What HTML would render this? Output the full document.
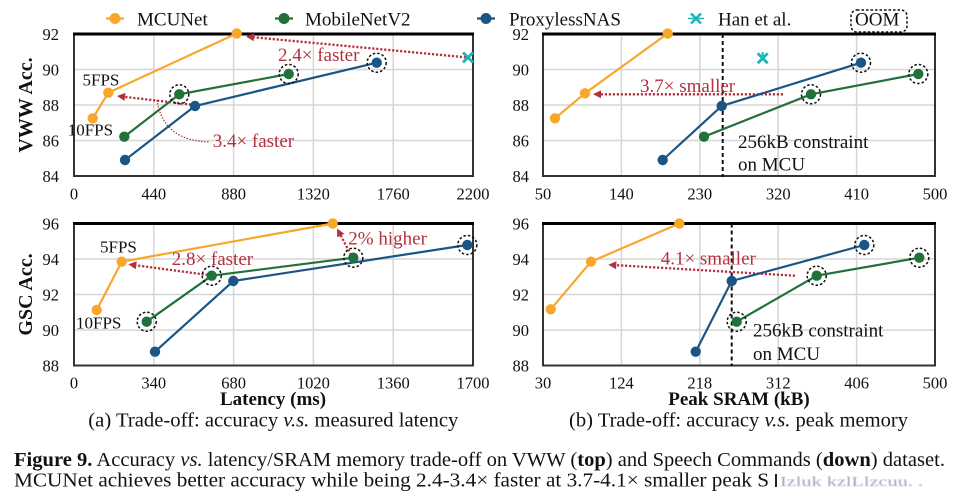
<!DOCTYPE html>
<html>
<head>
<meta charset="utf-8">
<style>
  html, body { margin:0; padding:0; background:#fff; }
  body { width:953px; height:499px; overflow:hidden; }
  svg { display:block; }
  text { font-family: "Liberation Serif", "DejaVu Serif", serif; }
</style>
</head>
<body>
<svg width="953" height="499" viewBox="0 0 953 499" xmlns="http://www.w3.org/2000/svg">
  <defs>
    <filter id="blur"><feGaussianBlur stdDeviation="0.5"/></filter>
  </defs>
  <rect width="953" height="499" fill="#fff"/>

  <!-- ===== LEGEND ===== -->
  <g font-size="19" fill="#111">
    <line x1="106" y1="18.5" x2="124" y2="18.5" stroke="#f9a72b" stroke-width="2.2"/>
    <circle cx="115" cy="18.5" r="5.5" fill="#f9a72b"/>
    <text x="137" y="25.5">MCUNet</text>
    <line x1="275" y1="18.5" x2="293" y2="18.5" stroke="#22703a" stroke-width="2.2"/>
    <circle cx="284" cy="18.5" r="5.5" fill="#22703a"/>
    <text x="305" y="25.5">MobileNetV2</text>
    <line x1="477" y1="18.5" x2="495" y2="18.5" stroke="#1b5585" stroke-width="2.2"/>
    <circle cx="486" cy="18.5" r="5.5" fill="#1b5585"/>
    <text x="509" y="25.5">ProxylessNAS</text>
    <g stroke="#1fb5b8" stroke-width="2.5">
      <line x1="691" y1="13.5" x2="701" y2="23.5"/><line x1="691" y1="23.5" x2="701" y2="13.5"/>
      <line x1="688" y1="18.5" x2="704" y2="18.5" stroke-width="1.5"/>
    </g>
    <text x="718" y="25.5">Han et al.</text>
    <rect x="851" y="10" width="56" height="22" rx="6" fill="none" stroke="#111" stroke-width="1.5" stroke-dasharray="2.5 2"/>
    <text x="855" y="25.5">OOM</text>
  </g>

  <!-- ===== TOP-LEFT PLOT ===== -->
  <g>
    <g stroke="#d6d6d6" stroke-width="1.5">
      <line x1="153.8" y1="34" x2="153.8" y2="176"/>
      <line x1="233.6" y1="34" x2="233.6" y2="176"/>
      <line x1="313.4" y1="34" x2="313.4" y2="176"/>
      <line x1="393.2" y1="34" x2="393.2" y2="176"/>
      <line x1="74" y1="69.5" x2="473" y2="69.5"/>
      <line x1="74" y1="105" x2="473" y2="105"/>
      <line x1="74" y1="140.5" x2="473" y2="140.5"/>
    </g>
    <rect x="74" y="34" width="399" height="142" fill="none" stroke="#333" stroke-width="2"/>
    <line x1="73" y1="34" x2="474" y2="34" stroke="#000" stroke-width="3"/>
    <g font-size="16.5" fill="#111" text-anchor="end">
      <text x="59" y="39.8">92</text>
      <text x="59" y="75.3">90</text>
      <text x="59" y="110.8">88</text>
      <text x="59" y="146.3">86</text>
      <text x="59" y="181.8">84</text>
    </g>
    <g font-size="16.5" fill="#111" text-anchor="middle">
      <text x="74" y="199.5">0</text>
      <text x="153.8" y="199.5">440</text>
      <text x="233.6" y="199.5">880</text>
      <text x="313.4" y="199.5">1320</text>
      <text x="393.2" y="199.5">1760</text>
      <text x="473" y="199.5">2200</text>
    </g>
    <text transform="translate(32,105) rotate(-90)" text-anchor="middle" font-size="20" font-weight="bold" fill="#111">VWW Acc.</text>

    <!-- annotations -->
    <g stroke="#b3303d" stroke-width="2.3" stroke-dasharray="2.2 1.8" fill="none">
      <line x1="466" y1="57.3" x2="253" y2="37.2"/>
      <line x1="195" y1="105" x2="124" y2="96.8"/>
    </g>
    <path d="M157,100 Q163,141 210,142" fill="none" stroke="#b3303d" stroke-width="1.2" stroke-dasharray="1.5 1.5"/>
    <polygon points="246,36.5 254.3,33.3 253.6,41.2" fill="#b3303d"/>
    <polygon points="117,96 125.4,92.9 124.5,100.9" fill="#b3303d"/>

    <!-- series -->
    <polyline points="92.7,118.3 108.3,92.7 236.7,33.5" fill="none" stroke="#f9a72b" stroke-width="2.2"/>
    <polyline points="124.3,136.7 179.3,94.3 288.7,74" fill="none" stroke="#22703a" stroke-width="2.2"/>
    <polyline points="125,160 195,106 376.7,62.7" fill="none" stroke="#1b5585" stroke-width="2.2"/>
    <g fill="#f9a72b"><circle cx="92.7" cy="118.3" r="5.2"/><circle cx="108.3" cy="92.7" r="5.2"/><circle cx="236.7" cy="33.5" r="5.2"/></g>
    <g fill="#22703a"><circle cx="124.3" cy="136.7" r="5.2"/><circle cx="179.3" cy="94.3" r="5.2"/><circle cx="288.7" cy="74" r="5.2"/></g>
    <g fill="#1b5585"><circle cx="125" cy="160" r="5.2"/><circle cx="195" cy="106" r="5.2"/><circle cx="376.7" cy="62.7" r="5.2"/></g>
    <g fill="none" stroke="#111" stroke-width="1.5" stroke-dasharray="2.5 2">
      <circle cx="179.3" cy="94.3" r="9.5"/><circle cx="288.7" cy="74" r="9.5"/><circle cx="376.7" cy="62.7" r="9.5"/>
    </g>
    <g stroke="#1fb5b8" stroke-width="2.8">
      <line x1="463" y1="52.5" x2="473" y2="62.5"/><line x1="463" y1="62.5" x2="473" y2="52.5"/>
    </g>
    <g font-size="19" fill="#b3303d">
      <text x="278" y="61">2.4× faster</text>
      <text x="212.7" y="147">3.4× faster</text>
    </g>
    <g font-size="17" fill="#111">
      <text x="82.5" y="85.5">5FPS</text>
      <text x="67.7" y="135.5">10FPS</text>
    </g>
  </g>

  <!-- ===== TOP-RIGHT PLOT ===== -->
  <g>
    <g stroke="#d6d6d6" stroke-width="1.5">
      <line x1="621.4" y1="34" x2="621.4" y2="176"/>
      <line x1="699.8" y1="34" x2="699.8" y2="176"/>
      <line x1="778.2" y1="34" x2="778.2" y2="176"/>
      <line x1="856.6" y1="34" x2="856.6" y2="176"/>
      <line x1="543" y1="69.5" x2="935" y2="69.5"/>
      <line x1="543" y1="105" x2="935" y2="105"/>
      <line x1="543" y1="140.5" x2="935" y2="140.5"/>
    </g>
    <rect x="543" y="34" width="392" height="142" fill="none" stroke="#333" stroke-width="2"/>
    <line x1="542" y1="34" x2="936" y2="34" stroke="#000" stroke-width="3"/>
    <g font-size="16.5" fill="#111" text-anchor="end">
      <text x="529" y="39.8">92</text>
      <text x="529" y="75.3">90</text>
      <text x="529" y="110.8">88</text>
      <text x="529" y="146.3">86</text>
      <text x="529" y="181.8">84</text>
    </g>
    <g font-size="16.5" fill="#111" text-anchor="middle">
      <text x="543" y="199.5">50</text>
      <text x="621.4" y="199.5">140</text>
      <text x="699.8" y="199.5">230</text>
      <text x="778.2" y="199.5">320</text>
      <text x="856.6" y="199.5">410</text>
      <text x="935" y="199.5">500</text>
    </g>
    <line x1="722.7" y1="34" x2="722.7" y2="177" stroke="#111" stroke-width="2" stroke-dasharray="4 3"/>

    <g font-size="19" fill="#b3303d"><text x="640" y="92">3.7× smaller</text></g>
    <line x1="783" y1="94.3" x2="600" y2="94.3" stroke="#b3303d" stroke-width="2.3" stroke-dasharray="2.2 1.8"/>
    <polygon points="593,94.3 601,90.3 601,98.3" fill="#b3303d"/>

    <polyline points="555,118.3 585,93.3 667.7,33.5" fill="none" stroke="#f9a72b" stroke-width="2.2"/>
    <polyline points="662.7,160 721.7,106 861,62.7" fill="none" stroke="#1b5585" stroke-width="2.2"/>
    <polyline points="704,136.7 811,94.3 918.3,74" fill="none" stroke="#22703a" stroke-width="2.2"/>
    <g fill="#f9a72b"><circle cx="555" cy="118.3" r="5.2"/><circle cx="585" cy="93.3" r="5.2"/><circle cx="667.7" cy="33.5" r="5.2"/></g>
    <g fill="#1b5585"><circle cx="662.7" cy="160" r="5.2"/><circle cx="721.7" cy="106" r="5.2"/><circle cx="861" cy="62.7" r="5.2"/></g>
    <g fill="#22703a"><circle cx="704" cy="136.7" r="5.2"/><circle cx="811" cy="94.3" r="5.2"/><circle cx="918.3" cy="74" r="5.2"/></g>
    <g fill="none" stroke="#111" stroke-width="1.5" stroke-dasharray="2.5 2">
      <circle cx="861" cy="62.7" r="9.5"/><circle cx="811" cy="94.3" r="9.5"/><circle cx="918.3" cy="74" r="9.5"/>
    </g>
    <g stroke="#1fb5b8" stroke-width="2.8">
      <line x1="757.7" y1="53.3" x2="767.7" y2="63.3"/><line x1="757.7" y1="63.3" x2="767.7" y2="53.3"/>
      <line x1="762.7" y1="52" x2="762.7" y2="56" stroke-width="2"/>
    </g>
    <g font-size="19" fill="#111">
      <text x="738" y="148">256kB constraint</text>
      <text x="738" y="170.7">on MCU</text>
    </g>
  </g>

  <!-- ===== BOTTOM-LEFT PLOT ===== -->
  <g>
    <g stroke="#d6d6d6" stroke-width="1.5">
      <line x1="153.8" y1="223.5" x2="153.8" y2="365.5"/>
      <line x1="233.6" y1="223.5" x2="233.6" y2="365.5"/>
      <line x1="313.4" y1="223.5" x2="313.4" y2="365.5"/>
      <line x1="393.2" y1="223.5" x2="393.2" y2="365.5"/>
      <line x1="74" y1="259" x2="473" y2="259"/>
      <line x1="74" y1="294.5" x2="473" y2="294.5"/>
      <line x1="74" y1="330" x2="473" y2="330"/>
    </g>
    <rect x="74" y="223.5" width="399" height="142" fill="none" stroke="#333" stroke-width="2"/>
    <line x1="73" y1="223.5" x2="474" y2="223.5" stroke="#000" stroke-width="3"/>
    <g font-size="16.5" fill="#111" text-anchor="end">
      <text x="59" y="229.3">96</text>
      <text x="59" y="264.8">94</text>
      <text x="59" y="300.3">92</text>
      <text x="59" y="335.8">90</text>
      <text x="59" y="371.3">88</text>
    </g>
    <g font-size="16.5" fill="#111" text-anchor="middle">
      <text x="74" y="388.5">0</text>
      <text x="153.8" y="388.5">340</text>
      <text x="233.6" y="388.5">680</text>
      <text x="313.4" y="388.5">1020</text>
      <text x="393.2" y="388.5">1360</text>
      <text x="473" y="388.5">1700</text>
    </g>
    <text transform="translate(32,294.5) rotate(-90)" text-anchor="middle" font-size="20" font-weight="bold" fill="#111">GSC Acc.</text>
    <text x="273" y="405" text-anchor="middle" font-size="19" font-weight="bold" fill="#111">Latency (ms)</text>
    <text x="88.3" y="426.7" font-size="20.5" fill="#111" textLength="370" lengthAdjust="spacingAndGlyphs">(a) Trade-off: accuracy <tspan font-style="italic">v.s.</tspan> measured latency</text>

    <g stroke="#b3303d" stroke-width="2.3" stroke-dasharray="2.2 1.8" fill="none">
      <line x1="211.7" y1="275.5" x2="135.2" y2="265.2"/>
      <line x1="351" y1="255" x2="340.3" y2="234.7"/>
    </g>
    <polygon points="128.3,264.3 136.8,261.4 135.7,269.3" fill="#b3303d"/>
    <polygon points="337,228.5 344.3,233.7 337.2,237.4" fill="#b3303d"/>

    <polyline points="96.7,310 121.7,261.7 332.7,223.5" fill="none" stroke="#f9a72b" stroke-width="2.2"/>
    <polyline points="146.7,321.7 211.7,275.7 353.3,257.7" fill="none" stroke="#22703a" stroke-width="2.2"/>
    <polyline points="155,351.7 233.3,281 467.3,245" fill="none" stroke="#1b5585" stroke-width="2.2"/>
    <g fill="#f9a72b"><circle cx="96.7" cy="310" r="5.2"/><circle cx="121.7" cy="261.7" r="5.2"/><circle cx="332.7" cy="223.5" r="5.2"/></g>
    <g fill="#22703a"><circle cx="146.7" cy="321.7" r="5.2"/><circle cx="211.7" cy="275.7" r="5.2"/><circle cx="353.3" cy="257.7" r="5.2"/></g>
    <g fill="#1b5585"><circle cx="155" cy="351.7" r="5.2"/><circle cx="233.3" cy="281" r="5.2"/><circle cx="467.3" cy="245" r="5.2"/></g>
    <g fill="none" stroke="#111" stroke-width="1.5" stroke-dasharray="2.5 2">
      <circle cx="146.7" cy="321.7" r="9.5"/><circle cx="211.7" cy="275.7" r="9.5"/><circle cx="353.3" cy="257.7" r="9.5"/><circle cx="467.3" cy="245" r="9.5"/>
    </g>
    <g font-size="19" fill="#b3303d">
      <text x="171.7" y="265">2.8× faster</text>
      <text x="348.3" y="244.3">2% higher</text>
    </g>
    <g font-size="17" fill="#111">
      <text x="100" y="252.3">5FPS</text>
      <text x="76" y="328.3">10FPS</text>
    </g>
  </g>

  <!-- ===== BOTTOM-RIGHT PLOT ===== -->
  <g>
    <g stroke="#d6d6d6" stroke-width="1.5">
      <line x1="621.4" y1="223.5" x2="621.4" y2="365.5"/>
      <line x1="699.8" y1="223.5" x2="699.8" y2="365.5"/>
      <line x1="778.2" y1="223.5" x2="778.2" y2="365.5"/>
      <line x1="856.6" y1="223.5" x2="856.6" y2="365.5"/>
      <line x1="543" y1="259" x2="935" y2="259"/>
      <line x1="543" y1="294.5" x2="935" y2="294.5"/>
      <line x1="543" y1="330" x2="935" y2="330"/>
    </g>
    <rect x="543" y="223.5" width="392" height="142" fill="none" stroke="#333" stroke-width="2"/>
    <line x1="542" y1="223.5" x2="936" y2="223.5" stroke="#000" stroke-width="3"/>
    <g font-size="16.5" fill="#111" text-anchor="end">
      <text x="529" y="229.3">96</text>
      <text x="529" y="264.8">94</text>
      <text x="529" y="300.3">92</text>
      <text x="529" y="335.8">90</text>
      <text x="529" y="371.3">88</text>
    </g>
    <g font-size="16.5" fill="#111" text-anchor="middle">
      <text x="543" y="388.5">30</text>
      <text x="621.4" y="388.5">124</text>
      <text x="699.8" y="388.5">218</text>
      <text x="778.2" y="388.5">312</text>
      <text x="856.6" y="388.5">406</text>
      <text x="935" y="388.5">500</text>
    </g>
    <text x="739" y="405" text-anchor="middle" font-size="19" font-weight="bold" fill="#111">Peak SRAM (kB)</text>
    <text x="569" y="426.7" font-size="20.5" fill="#111" textLength="339" lengthAdjust="spacingAndGlyphs">(b) Trade-off: accuracy <tspan font-style="italic">v.s.</tspan> peak memory</text>

    <line x1="731.7" y1="223.5" x2="731.7" y2="366.5" stroke="#111" stroke-width="2" stroke-dasharray="4 3"/>

    <g font-size="19" fill="#b3303d"><text x="660.7" y="264.3">4.1× smaller</text></g>
    <line x1="795" y1="275.7" x2="615.3" y2="265.1" stroke="#b3303d" stroke-width="2.3" stroke-dasharray="2.2 1.8"/>
    <polygon points="608.3,264.7 616.5,261.2 616.05,269.2" fill="#b3303d"/>

    <polyline points="550.7,309.3 591,261.7 679.3,223.5" fill="none" stroke="#f9a72b" stroke-width="2.2"/>
    <polyline points="695.7,351.7 731.7,281 864.3,245" fill="none" stroke="#1b5585" stroke-width="2.2"/>
    <polyline points="736.7,321.7 816.7,275.7 919.3,257.7" fill="none" stroke="#22703a" stroke-width="2.2"/>
    <g fill="#f9a72b"><circle cx="550.7" cy="309.3" r="5.2"/><circle cx="591" cy="261.7" r="5.2"/><circle cx="679.3" cy="223.5" r="5.2"/></g>
    <g fill="#1b5585"><circle cx="695.7" cy="351.7" r="5.2"/><circle cx="731.7" cy="281" r="5.2"/><circle cx="864.3" cy="245" r="5.2"/></g>
    <g fill="#22703a"><circle cx="736.7" cy="321.7" r="5.2"/><circle cx="816.7" cy="275.7" r="5.2"/><circle cx="919.3" cy="257.7" r="5.2"/></g>
    <g fill="none" stroke="#111" stroke-width="1.5" stroke-dasharray="2.5 2">
      <circle cx="736.7" cy="321.7" r="9.5"/><circle cx="816.7" cy="275.7" r="9.5"/><circle cx="919.3" cy="257.7" r="9.5"/><circle cx="864.3" cy="245" r="9.5"/>
    </g>
    <g font-size="19" fill="#111">
      <text x="753" y="336.7">256kB constraint</text>
      <text x="753" y="360">on MCU</text>
    </g>
  </g>

  <!-- ===== FIGURE CAPTION ===== -->
  <g font-size="20.5" fill="#111">
    <text x="14" y="466" textLength="931" lengthAdjust="spacingAndGlyphs"><tspan font-weight="bold">Figure 9.</tspan> Accuracy <tspan font-style="italic">vs.</tspan> latency/SRAM memory trade-off on VWW (<tspan font-weight="bold">top</tspan>) and Speech Commands (<tspan font-weight="bold">down</tspan>) dataset.</text>
    <text x="14" y="486.5" textLength="755" lengthAdjust="spacingAndGlyphs">MCUNet achieves better accuracy while being 2.4-3.4× faster at 3.7-4.1× smaller peak S</text>
  </g>
  <line x1="776" y1="474" x2="776" y2="487" stroke="#222" stroke-width="2"/>
  <text x="780" y="486" font-size="14" fill="#4a5c8c" opacity="0.55" filter="url(#blur)" textLength="143" lengthAdjust="spacingAndGlyphs">Izluk kzlLlzcuu.  .</text>
</svg>
</body>
</html>
